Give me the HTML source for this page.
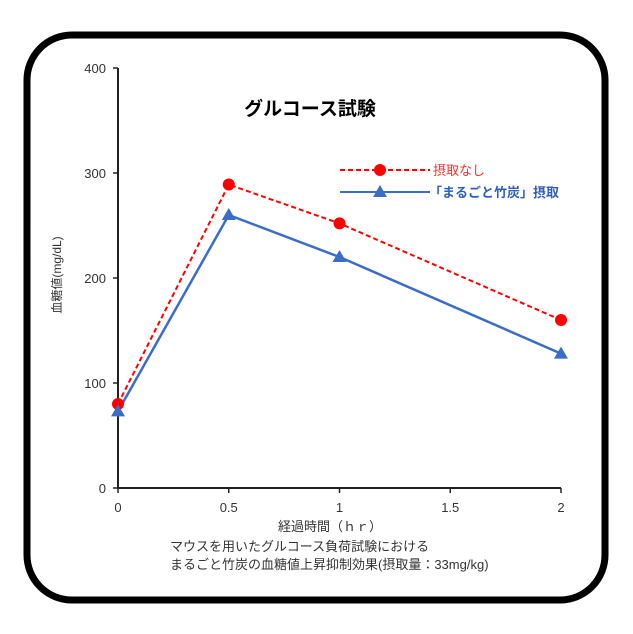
<!DOCTYPE html>
<html><head><meta charset="utf-8"><style>
body{margin:0;background:#fff;}
svg text{font-family:"Liberation Sans","Noto Sans CJK JP",sans-serif;}
</style></head><body>
<svg id="c" width="633" height="629" xmlns="http://www.w3.org/2000/svg">
<rect x="27" y="35" width="578" height="565" rx="45" ry="45" fill="#fff" stroke="#000" stroke-width="7"/>
<text x="310" y="115" font-size="19" font-weight="bold" text-anchor="middle">グルコース試験</text>
<text transform="translate(61,275) rotate(-90)" font-size="12" text-anchor="middle" fill="#333">血糖値(mg/dL)</text>
<text x="330" y="531" font-size="13" text-anchor="middle" fill="#333">経過時間（ｈｒ）</text>
<text x="170" y="551" font-size="13" fill="#333">マウスを用いたグルコース負荷試験における</text>
<text x="170" y="569" font-size="13" fill="#333">まるごと竹炭の血糖値上昇抑制効果(摂取量：33mg/kg)</text>
<g id="axes"></g><g id="series"></g>
<g>
<line x1="340" y1="170" x2="430" y2="170" stroke="#f00" stroke-width="2" stroke-dasharray="5,3"/>
<circle cx="380" cy="170" r="6" fill="#f00"/>
<text x="433" y="175" font-size="13" fill="#e33">摂取なし</text>
<line x1="340" y1="192" x2="430" y2="192" stroke="#3a6cc8" stroke-width="2"/>
<polygon points="380,185 387,197 373,197" fill="#3a6cc8"/>
<text x="429" y="197" font-size="13" font-weight="bold" fill="#2f5fb8">「まるごと竹炭」摂取</text>
</g>
</svg>
<script>
const xVals=[0,0.5,1,2];
const redVals=[80,289,252,160];
const blueVals=[73,260,220,128];
const yTicks=[0,100,200,300,400];
const xTicks=[0,0.5,1,1.5,2];
const NS="http://www.w3.org/2000/svg";
const X=v=>118+v*(561-118)/2, Y=v=>488-v*(488-68)/400;
function mk(t,a,p){const e=document.createElementNS(NS,t);for(const k in a)e.setAttribute(k,a[k]);p.appendChild(e);return e;}
const ax=document.getElementById('axes');
const yl=mk('line',{x1:X(0),y1:Y(0),x2:X(0),y2:Y(400),stroke:'#222','stroke-width':2},ax);


const xl=mk('line',{x1:X(0),y1:Y(0),x2:X(2),y2:Y(0),stroke:'#222','stroke-width':2},ax);


yTicks.forEach(v=>{mk('line',{x1:X(0)-5,y1:Y(v),x2:X(0),y2:Y(v),stroke:'#222','stroke-width':1.5},ax);
const t=mk('text',{x:X(0)-12,y:Y(v)+5,'font-size':13,'text-anchor':'end',fill:'#333'},ax);t.textContent=v;

});
xTicks.forEach(v=>{mk('line',{x1:X(v),y1:Y(0),x2:X(v),y2:Y(0)+5,stroke:'#222','stroke-width':1.5},ax);
const t=mk('text',{x:X(v),y:Y(0)+24,'font-size':13,'text-anchor':'middle',fill:'#333'},ax);t.textContent=v;

});
const s=document.getElementById('series');
const bl=mk('polyline',{points:xVals.map((x,i)=>X(x)+','+Y(blueVals[i])).join(' '),fill:'none',stroke:'#3a6cc8','stroke-width':2.5},s);


const rl=mk('polyline',{points:xVals.map((x,i)=>X(x)+','+Y(redVals[i])).join(' '),fill:'none',stroke:'#f00','stroke-width':2,'stroke-dasharray':'5,3'},s);


xVals.forEach((x,i)=>{const c=mk('circle',{cx:X(x),cy:Y(redVals[i]),r:6,fill:'#f00'},s);

});
xVals.forEach((x,i)=>{const px=X(x),py=Y(blueVals[i]);
const p=mk('polygon',{points:`${px},${py-7} ${px+7},${py+5} ${px-7},${py+5}`,fill:'#3a6cc8'},s);

});
</script>
</body></html>
